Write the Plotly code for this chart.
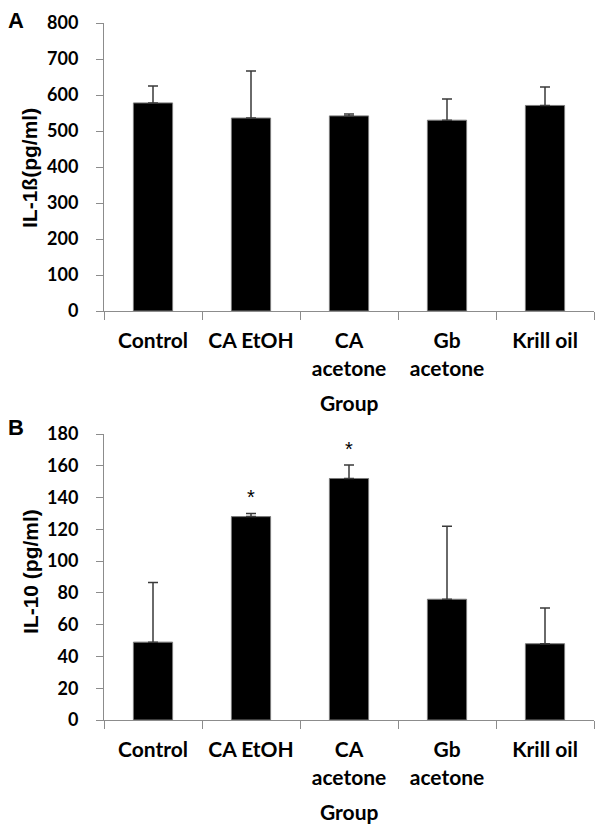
import plotly.graph_objects as go

groups = ["Control", "CA EtOH", "CA<br>acetone", "Gb<br>acetone", "Krill oil"]
il1b_mean = [578, 536, 542, 530, 571]
il1b_err = [47, 131, 5, 59, 51]
il10_mean = [49, 128, 152, 76, 48]
il10_err = [37.5, 2, 8.5, 46, 22.5]
il10_sig = ["", "*", "*", "", ""]

AX_COL = "#8c8c8c"

fig = go.Figure()

def add_bars(means, errs, xa, ya):
    fig.add_trace(go.Bar(
        x=groups, y=means, xaxis=xa, yaxis=ya,
        marker=dict(color="black", line=dict(color="#7a7a7a", width=1)),
        error_y=dict(type="data", array=errs, arrayminus=[0] * len(errs),
                     symmetric=False, color="#3a3a3a", thickness=1.5, width=5),
        showlegend=False, hoverinfo="skip",
    ))

add_bars(il1b_mean, il1b_err, "x", "y")
add_bars(il10_mean, il10_err, "x2", "y2")

xcommon = dict(showline=True, linecolor=AX_COL, linewidth=1, ticks="outside",
               tickson="boundaries", ticklen=8, tickcolor=AX_COL,
               tickfont=dict(family="Lato", size=21, color="black", weight=700),
               ticklabelstandoff=11,
               showgrid=False, fixedrange=True, automargin=False)
ycommon = dict(showline=True, linecolor=AX_COL, linewidth=1, ticks="outside",
               ticklen=7, tickcolor=AX_COL,
               tickfont=dict(family="Lato", size=18, color="black", weight=700),
               showgrid=False, zeroline=False, ticklabelstandoff=14, automargin=False,
               fixedrange=True)

fig.update_layout(
    template="none",
    width=595, height=825,
    margin=dict(l=104, r=1, t=0, b=0, pad=0),
    plot_bgcolor="white", paper_bgcolor="white",
    bargap=0.6,
    xaxis=dict(domain=[0, 1], anchor="y", **xcommon),
    yaxis=dict(domain=[1 - 311 / 825, 1 - 23 / 825], anchor="x",
               range=[0, 800], dtick=100, **ycommon),
    xaxis2=dict(domain=[0, 1], anchor="y2", **xcommon),
    yaxis2=dict(domain=[1 - 720 / 825, 1 - 434 / 825], anchor="x2",
                range=[0, 180], dtick=20, **ycommon),
)

def paper_pt(px, py):
    return (px - 104) / 490, 1 - py / 825

ann = []
# panel letters
for letter, py in [("A", 20), ("B", 427)]:
    x, y = paper_pt(16, py)
    ann.append(dict(text=letter, x=x, y=y, xref="paper", yref="paper",
                    showarrow=False, xanchor="center", yanchor="middle",
                    font=dict(family="Liberation Sans", size=22, color="black", weight=700)))
# y titles
for txt, py in [("IL-1ß(pg/ml)", 168), ("IL-10 (pg/ml)", 572)]:
    x, y = paper_pt(30, py)
    ann.append(dict(text=txt, x=x, y=y, xref="paper", yref="paper",
                    showarrow=False, textangle=-90, xanchor="center", yanchor="middle",
                    font=dict(family="Liberation Sans", size=21, color="black", weight=700)))
# x titles
for py in [402, 811]:
    x, y = paper_pt(349, py)
    ann.append(dict(text="Group", x=x, y=y, xref="paper", yref="paper",
                    showarrow=False, xanchor="center", yanchor="middle",
                    font=dict(family="Lato", size=21, color="black", weight=700)))
# significance stars
for g, m, e, s in zip(groups, il10_mean, il10_err, il10_sig):
    if s:
        ann.append(dict(text=s, x=g, y=m + e, xref="x2", yref="y2", showarrow=False,
                        xanchor="center", yanchor="bottom", yshift=3,
                        font=dict(family="Liberation Sans", size=20, color="black")))

fig.update_layout(annotations=ann)
fig.write_html("out.html", config={"displayModeBar": False},
               post_script="document.body.style.margin='0';document.body.style.padding='0';")
